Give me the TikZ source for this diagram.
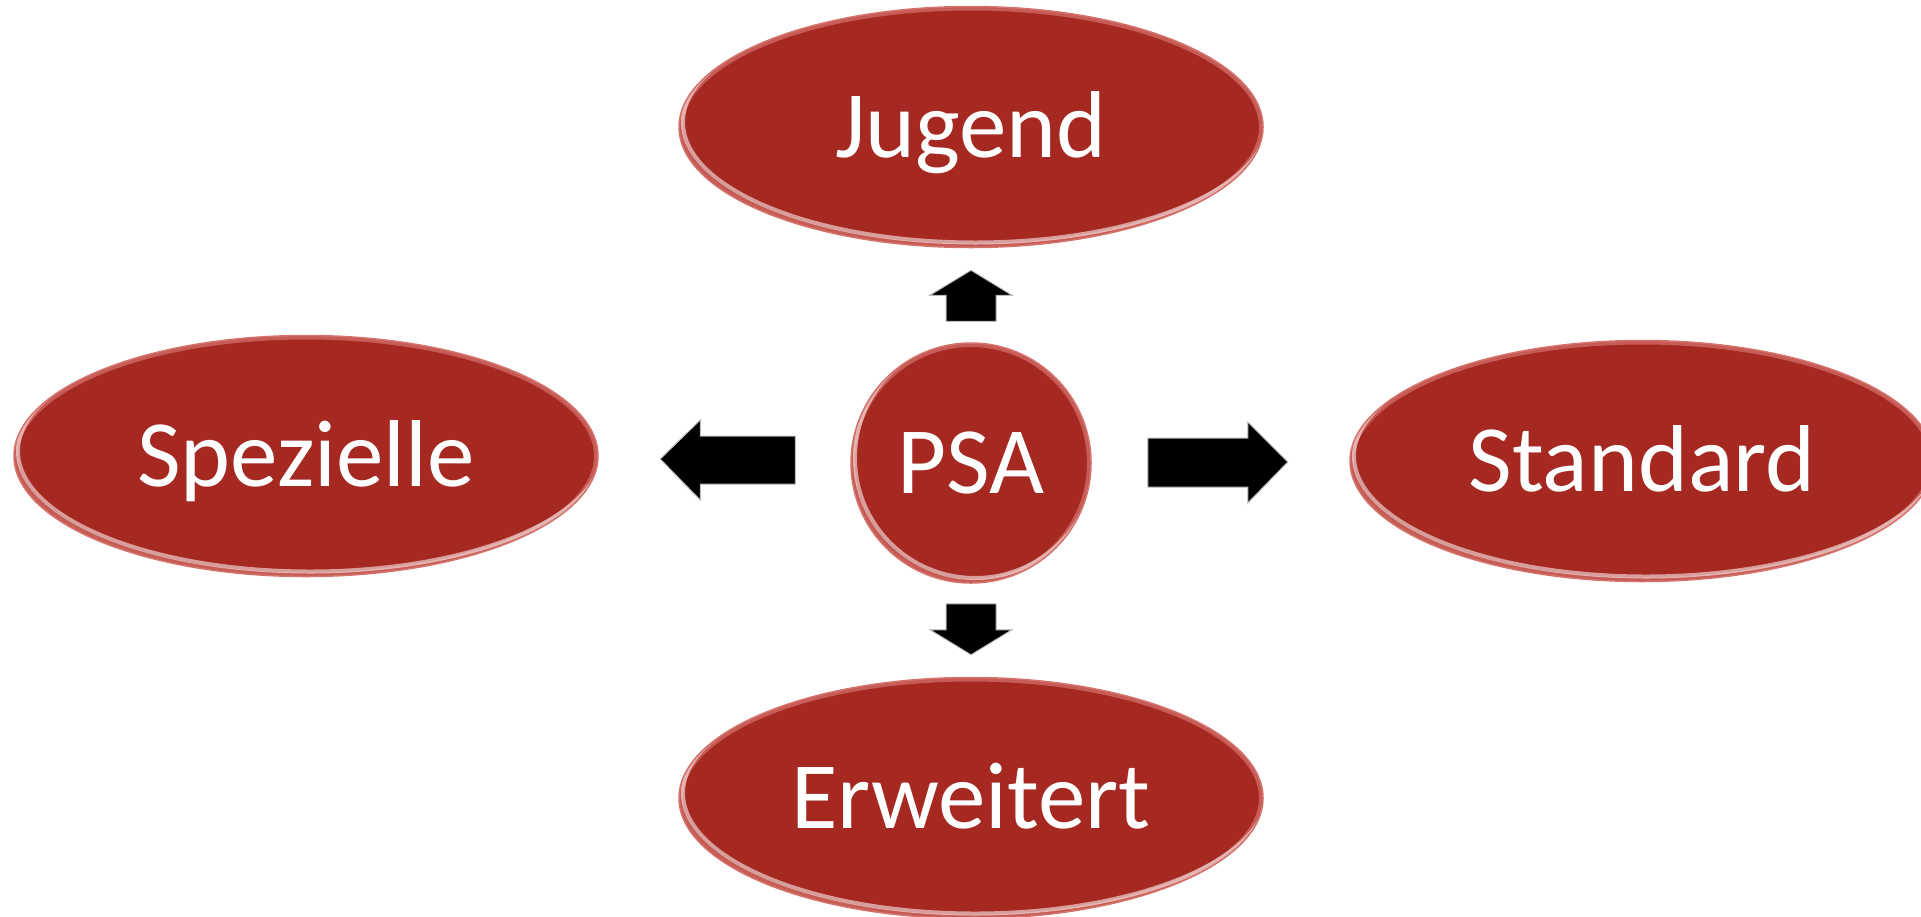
\documentclass[tikz,border=0pt]{standalone}
\usepackage{fontspec}
\setmainfont{Carlito}
\usetikzlibrary{shapes.geometric,calc}

\definecolor{psarot}{HTML}{A52821}
\definecolor{psarand}{HTML}{E8918A}

\tikzset{
  oval/.style={ellipse, fill=psarot, draw=psarand!70!psarot, line width=1.5pt, text=white,
    inner sep=0pt, minimum width=584pt, minimum height=241pt,
    font=\fontsize{95}{100}\selectfont, text height=61pt, text depth=0pt,
    path picture={
      \draw[psarand, line width=8pt, opacity=0.5]
        let \p1=($(path picture bounding box.north east)-(path picture bounding box.center)$)
        in (path picture bounding box.center) ellipse [x radius=\x1, y radius=\y1];
      \draw[white!85!psarand, line width=4pt, opacity=0.6]
        let \p1=($(path picture bounding box.north east)-(path picture bounding box.center)$)
        in ($(path picture bounding box.center)+(4pt,5pt)$) ellipse [x radius=\x1, y radius=\y1];
    }},
  kreis/.style={oval, minimum width=240pt, minimum height=240pt},
  pfeil/.style={fill=black, draw=gray!55, line width=1pt, line join=miter}
}

\begin{document}
\begin{tikzpicture}[x=1pt,y=-1pt]
\useasboundingbox (0,0) rectangle (1921,916);

%Mitte
\node[kreis] (psa) at (971,463) {PSA};

%die vier Ovale
\node[oval] (jugend) at (971,127) {Jugend};
\node[oval] (spezielle) at (306,456) {Spezielle};
\node[oval] (standard) at (1642,461) {Standard};
\node[oval] (erweitert) at (971,798) {Erweitert};

%Pfeil nach oben
\draw[pfeil, shift={(psa.north)}] (0,-72) -- (41,-47) -- (25,-47) -- (25,-21)
  -- (-25,-21) -- (-25,-47) -- (-41,-47) -- cycle;
%Pfeil nach unten
\draw[pfeil, shift={(psa.south)}] (-25,20) -- (25,20) -- (25,46) -- (41,46)
  -- (0,71) -- (-41,46) -- (-25,46) -- cycle;
%Pfeil nach links
\draw[pfeil, shift={(psa.west)}] (-190,-4) -- (-150,-43) -- (-150,-27) -- (-55,-27)
  -- (-55,21) -- (-150,21) -- (-150,37) -- cycle;
%Pfeil nach rechts
\draw[pfeil, shift={(psa.east)}] (56,-25) -- (156,-25) -- (156,-41) -- (196,-1)
  -- (156,40) -- (156,24) -- (56,24) -- cycle;
\end{tikzpicture}
\end{document}
